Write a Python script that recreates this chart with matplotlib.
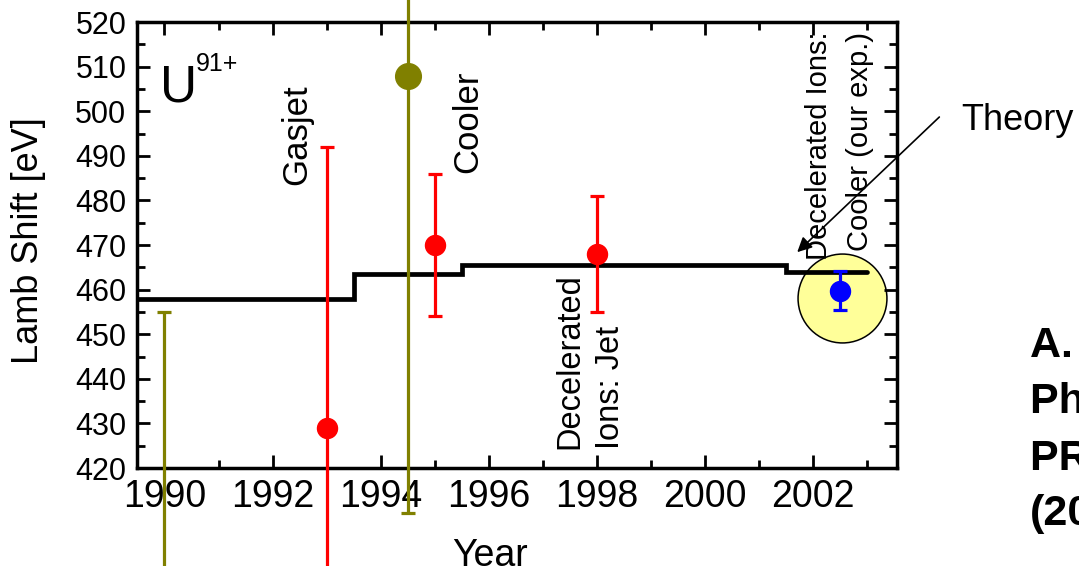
import matplotlib.pyplot as plt
from matplotlib.ticker import MultipleLocator

plt.rcParams['font.family'] = ['Liberation Sans', 'DejaVu Sans']

# 1s Lamb shift of U91+ [eV], earlier experiments (red / olive) and ours (blue)
red_years = [1993.0, 1995.0, 1998.0]
red_vals = [429, 470, 468]
red_errs = [63, 16, 13]

olive_years = [1990.0, 1994.5]
olive_vals = [380, 508]
olive_errs = [75, 98]

our_year = [2002.5]
our_val = [459.8]
our_err = [4.3]

# theory prediction, changing with time
theory_edges = [1989.5, 1993.5, 1995.5, 2001.5, 2003.0]
theory_vals = [458.0, 463.4, 465.6, 463.9]

# highlight around our result
mark_x = [2002.53]
mark_y = [458.1]

fig = plt.figure(figsize=(10.79, 5.66), dpi=100)
ax = fig.add_axes([0.1274, 0.1731, 0.7036, 0.788])

ax.plot(mark_x, mark_y, 'o', ms=64, mfc='#ffff99', mec='black', mew=1.1, zorder=1)

step = ax.stairs(theory_vals, theory_edges, baseline=None, color='black', lw=3.4, zorder=2)
step.set_capstyle('round')

def draw_points(x, y, err, color, ms):
    cont = ax.errorbar(x, y, yerr=err, fmt='o', color=color, ms=ms, lw=2.3,
                       capsize=4.7, capthick=2.3, zorder=3)
    for art in cont.get_children():
        art.set_clip_on(False)

draw_points(red_years, red_vals, red_errs, 'red', 14.4)
draw_points(olive_years, olive_vals, olive_errs, '#808000', 18.5)
draw_points(our_year, our_val, our_err, 'blue', 14.4)

ax.set_xlim(1989.5, 2003.55)
ax.set_ylim(420, 520)
ax.xaxis.set_major_locator(MultipleLocator(2))
ax.xaxis.set_minor_locator(MultipleLocator(1))
ax.yaxis.set_major_locator(MultipleLocator(10))
ax.yaxis.set_minor_locator(MultipleLocator(5))
ax.tick_params(which='both', direction='in', top=True, right=True, width=2)
ax.tick_params(which='major', length=9.5)
ax.tick_params(which='minor', length=6)
ax.tick_params(axis='x', labelsize=27, pad=8)
ax.tick_params(axis='y', labelsize=22, pad=8)
for sp in ax.spines.values():
    sp.set_linewidth(2.5)

ax.set_xlabel('Year', fontsize=27)
ax.xaxis.set_label_coords(0.464, -0.157)
ax.set_ylabel('Lamb Shift [eV]', fontsize=26)
ax.yaxis.set_label_coords(-0.121, 0.51)

ax.text(1989.92, 502.1, 'U', fontsize=37, ha='left', va='baseline')
ax.text(1990.58, 509.0, '91+', fontsize=18, ha='left', va='baseline')

ax.text(1992.45, 483.5, 'Gasjet', fontsize=25, rotation=90, ha='center', va='bottom')
ax.text(1995.62, 486.1, 'Cooler', fontsize=25, rotation=90, ha='center', va='bottom')
ax.text(1997.88, 424.3, 'Decelerated\nIons: Jet', fontsize=23.5, rotation=90,
        ha='center', va='bottom', multialignment='left', linespacing=1.4)
ax.text(2002.49, 517.8, 'Decelerated Ions:\nCooler (our exp.)', fontsize=21, rotation=90,
        ha='center', va='top', multialignment='right', linespacing=1.6)

ax.annotate('', xy=(2001.71, 468.4), xytext=(2004.34, 498.7), annotation_clip=False,
            arrowprops=dict(arrowstyle='-|>', color='black', lw=1.2, mutation_scale=22,
                            shrinkA=0, shrinkB=0))
ax.text(2004.75, 495.8, 'Theory', fontsize=26, ha='left', va='baseline', clip_on=False)

fig.text(1030 / 1079, 1 - 326 / 566, 'A. Gumberidze et al.\nPhys. Rev. Lett. 94\nPRL 94, 223001\n(2005)',
         fontsize=31, fontweight='bold', ha='left', va='top', linespacing=1.52)

fig.savefig('out.png', dpi=100)
